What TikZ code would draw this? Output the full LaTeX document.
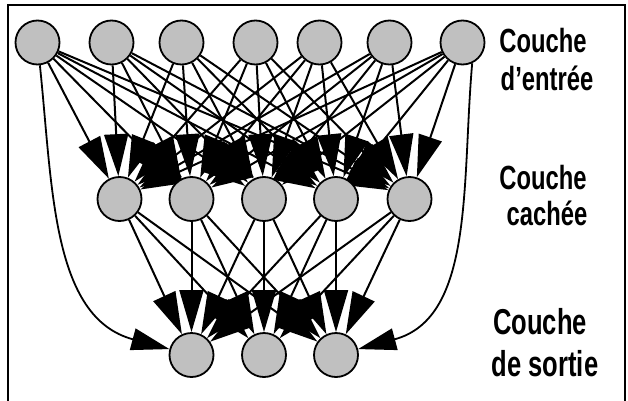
\documentclass[tikz,border=0pt]{standalone}
\usepackage{fontspec}
\usetikzlibrary{arrows.meta,backgrounds}
\newfontfamily\layerfont{Liberation Sans}[FakeStretch=0.71]
\definecolor{cellgray}{RGB}{192,192,192}
\begin{document}
\begin{tikzpicture}[x=1pt,y=1pt,
  neuron/.style={circle,draw=black,line width=1.8pt,fill=cellgray,minimum size=44pt,inner sep=0pt},
  link/.style={line width=2pt,-{Triangle[length=42pt,width=24pt]}},
  bend link/.style={line width=1.8pt,-{Triangle[length=38pt,width=22pt]}},
  caption/.style={anchor=base,inner sep=0pt,font=\layerfont\bfseries\fontsize{33.5}{38}\selectfont},
  bigcaption/.style={caption,font=\layerfont\bfseries\fontsize{36}{42}\selectfont}
]
\useasboundingbox (0,0) rectangle (628,400);
% frame
\draw[line width=1.6pt] (8,-2) -- (8,395) -- (625,395) -- (625,-2);

% input layer
\foreach \x [count=\i] in {37.5,111.5,181.5,255.5,319.5,389.5,462.5}
  \node[neuron] (in\i) at (\x,357.5) {};
% hidden layer
\foreach \x [count=\i] in {119.5,191.5,264,336,409.5}
  \node[neuron] (hid\i) at (\x,201) {};
% output layer
\foreach \x [count=\i] in {191.5,264,336}
  \node[neuron] (out\i) at (\x,45) {};

\begin{scope}[on background layer]
  \foreach \i in {1,...,7}
    \foreach \j in {1,...,5}
      \draw[link] (in\i) -- (hid\j);
  \foreach \j in {1,...,5}
    \foreach \k in {1,2,3}
      \draw[link] (hid\j) -- (out\k);
  \draw[bend link] (in1.-84) to[out=-84,in=165] (out1);
  \draw[bend link] (in7.-65) to[out=-95,in=15] (out3);
\end{scope}

% layer captions
\node[caption] (lab1a) at (543,348) {Couche};
\node[caption] (lab1b) at (547,310) {d’entrée};
\node[caption] (lab2a) at (543,211) {Couche};
\node[caption] (lab2b) at (547,175) {cachée};
\node[bigcaption] (lab3a) at (540,66) {Couche};
\node[bigcaption] (lab3b) at (545,24) {de sortie};
\end{tikzpicture}
\end{document}
